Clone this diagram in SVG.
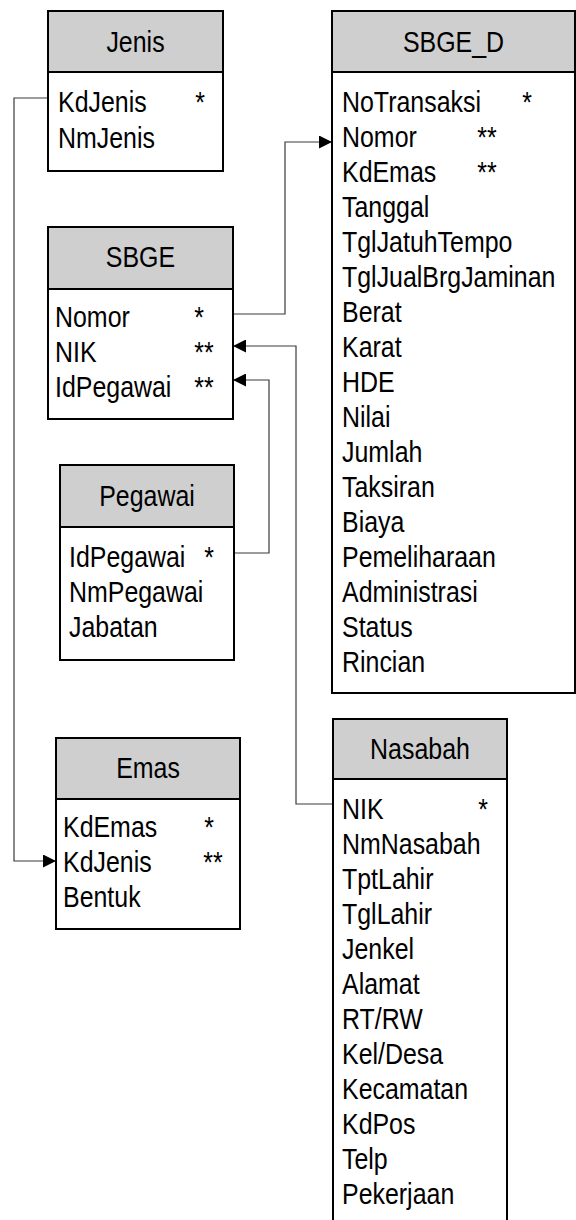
<svg xmlns="http://www.w3.org/2000/svg" width="576" height="1220" viewBox="0 0 576 1220">
  <style>
    .box { fill: #ffffff; stroke: #000000; stroke-width: 2; }
    .head { fill: #cfcfcf; stroke: #000000; stroke-width: 2; }
    .t { font-family: "Liberation Sans", Arial, sans-serif; font-size: 29px; fill: #000000; }
    .c { text-anchor: middle; }
    .link { fill: none; stroke: #3a3a3a; stroke-width: 1.2; }
  </style>
  <defs>
    <marker id="arrow" markerUnits="userSpaceOnUse" markerWidth="13" markerHeight="13" refX="13" refY="6.5" orient="auto">
      <path d="M0,0 L13,6.5 L0,13 Z" fill="#000000"/>
    </marker>
  </defs>

  <rect width="576" height="1220" fill="#ffffff"/>

  <!-- relationship lines -->
  <g id="connectors">
    <path class="link" d="M48,98 H14 V861 H56" marker-end="url(#arrow)"/>
    <path class="link" d="M233,314 H285 V142 H332" marker-end="url(#arrow)"/>
    <path class="link" d="M333,804 H296 V346 H233" marker-end="url(#arrow)"/>
    <path class="link" d="M234,553 H269 V380 H233" marker-end="url(#arrow)"/>
  </g>

  <!-- Jenis -->
  <g id="jenis">
    <rect class="box" x="48" y="11" width="175" height="160"/>
    <rect class="head" x="48" y="11" width="175" height="61"/>
    <text class="t c" transform="translate(135.5 52) scale(0.86 1)">Jenis</text>
    <text class="t" transform="translate(58 112) scale(0.86 1)">KdJenis</text>
    <text class="t" transform="translate(58 148) scale(0.86 1)">NmJenis</text>
    <text class="t c" transform="translate(200 112) scale(0.86 1)">*</text>
  </g>

  <!-- SBGE -->
  <g id="sbge">
    <rect class="box" x="48" y="227" width="185" height="192"/>
    <rect class="head" x="48" y="227" width="185" height="62"/>
    <text class="t c" transform="translate(140.5 267) scale(0.86 1)">SBGE</text>
    <text class="t" transform="translate(55 327) scale(0.86 1)">Nomor</text>
    <text class="t" transform="translate(55 362) scale(0.86 1)">NIK</text>
    <text class="t" transform="translate(55 397) scale(0.86 1)">IdPegawai</text>
    <text class="t c" transform="translate(199 327) scale(0.86 1)">*</text>
    <text class="t c" transform="translate(204 362) scale(0.86 1)">**</text>
    <text class="t c" transform="translate(204 397) scale(0.86 1)">**</text>
  </g>

  <!-- Pegawai -->
  <g id="pegawai">
    <rect class="box" x="60" y="465" width="174" height="195"/>
    <rect class="head" x="60" y="465" width="174" height="62"/>
    <text class="t c" transform="translate(147 506) scale(0.86 1)">Pegawai</text>
    <text class="t" transform="translate(69 567) scale(0.86 1)">IdPegawai</text>
    <text class="t" transform="translate(69 602) scale(0.86 1)">NmPegawai</text>
    <text class="t" transform="translate(69 637) scale(0.86 1)">Jabatan</text>
    <text class="t c" transform="translate(209 567) scale(0.86 1)">*</text>
  </g>

  <!-- Emas -->
  <g id="emas">
    <rect class="box" x="56" y="738" width="184" height="191"/>
    <rect class="head" x="56" y="738" width="184" height="61"/>
    <text class="t c" transform="translate(148 778) scale(0.86 1)">Emas</text>
    <text class="t" transform="translate(63 837) scale(0.86 1)">KdEmas</text>
    <text class="t" transform="translate(63 872) scale(0.86 1)">KdJenis</text>
    <text class="t" transform="translate(63 907) scale(0.86 1)">Bentuk</text>
    <text class="t c" transform="translate(209 837) scale(0.86 1)">*</text>
    <text class="t c" transform="translate(213 872) scale(0.86 1)">**</text>
  </g>

  <!-- SBGE_D -->
  <g id="sbge_d">
    <rect class="box" x="332" y="11" width="243" height="682"/>
    <rect class="head" x="332" y="11" width="243" height="61"/>
    <text class="t c" transform="translate(453.5 52) scale(0.86 1)">SBGE_D</text>
    <text class="t" transform="translate(342 112) scale(0.86 1)">NoTransaksi</text>
    <text class="t" transform="translate(342 147) scale(0.86 1)">Nomor</text>
    <text class="t" transform="translate(342 182) scale(0.86 1)">KdEmas</text>
    <text class="t" transform="translate(342 217) scale(0.86 1)">Tanggal</text>
    <text class="t" transform="translate(342 252) scale(0.86 1)">TglJatuhTempo</text>
    <text class="t" transform="translate(342 287) scale(0.86 1)">TglJualBrgJaminan</text>
    <text class="t" transform="translate(342 322) scale(0.86 1)">Berat</text>
    <text class="t" transform="translate(342 357) scale(0.86 1)">Karat</text>
    <text class="t" transform="translate(342 392) scale(0.86 1)">HDE</text>
    <text class="t" transform="translate(342 427) scale(0.86 1)">Nilai</text>
    <text class="t" transform="translate(342 462) scale(0.86 1)">Jumlah</text>
    <text class="t" transform="translate(342 497) scale(0.86 1)">Taksiran</text>
    <text class="t" transform="translate(342 532) scale(0.86 1)">Biaya</text>
    <text class="t" transform="translate(342 567) scale(0.86 1)">Pemeliharaan</text>
    <text class="t" transform="translate(342 602) scale(0.86 1)">Administrasi</text>
    <text class="t" transform="translate(342 637) scale(0.86 1)">Status</text>
    <text class="t" transform="translate(342 672) scale(0.86 1)">Rincian</text>
    <text class="t c" transform="translate(527 112) scale(0.86 1)">*</text>
    <text class="t c" transform="translate(487 147) scale(0.86 1)">**</text>
    <text class="t c" transform="translate(487 182) scale(0.86 1)">**</text>
  </g>

  <!-- Nasabah (continues past the lower edge) -->
  <g id="nasabah">
    <rect class="box" x="333" y="719" width="174" height="520"/>
    <rect class="head" x="333" y="719" width="174" height="60"/>
    <text class="t c" transform="translate(420 759) scale(0.86 1)">Nasabah</text>
    <text class="t" transform="translate(342 819) scale(0.86 1)">NIK</text>
    <text class="t" transform="translate(342 854) scale(0.86 1)">NmNasabah</text>
    <text class="t" transform="translate(342 889) scale(0.86 1)">TptLahir</text>
    <text class="t" transform="translate(342 924) scale(0.86 1)">TglLahir</text>
    <text class="t" transform="translate(342 959) scale(0.86 1)">Jenkel</text>
    <text class="t" transform="translate(342 994) scale(0.86 1)">Alamat</text>
    <text class="t" transform="translate(342 1029) scale(0.86 1)">RT/RW</text>
    <text class="t" transform="translate(342 1064) scale(0.86 1)">Kel/Desa</text>
    <text class="t" transform="translate(342 1099) scale(0.86 1)">Kecamatan</text>
    <text class="t" transform="translate(342 1134) scale(0.86 1)">KdPos</text>
    <text class="t" transform="translate(342 1169) scale(0.86 1)">Telp</text>
    <text class="t" transform="translate(342 1204) scale(0.86 1)">Pekerjaan</text>
    <text class="t c" transform="translate(483 819) scale(0.86 1)">*</text>
  </g>
</svg>
